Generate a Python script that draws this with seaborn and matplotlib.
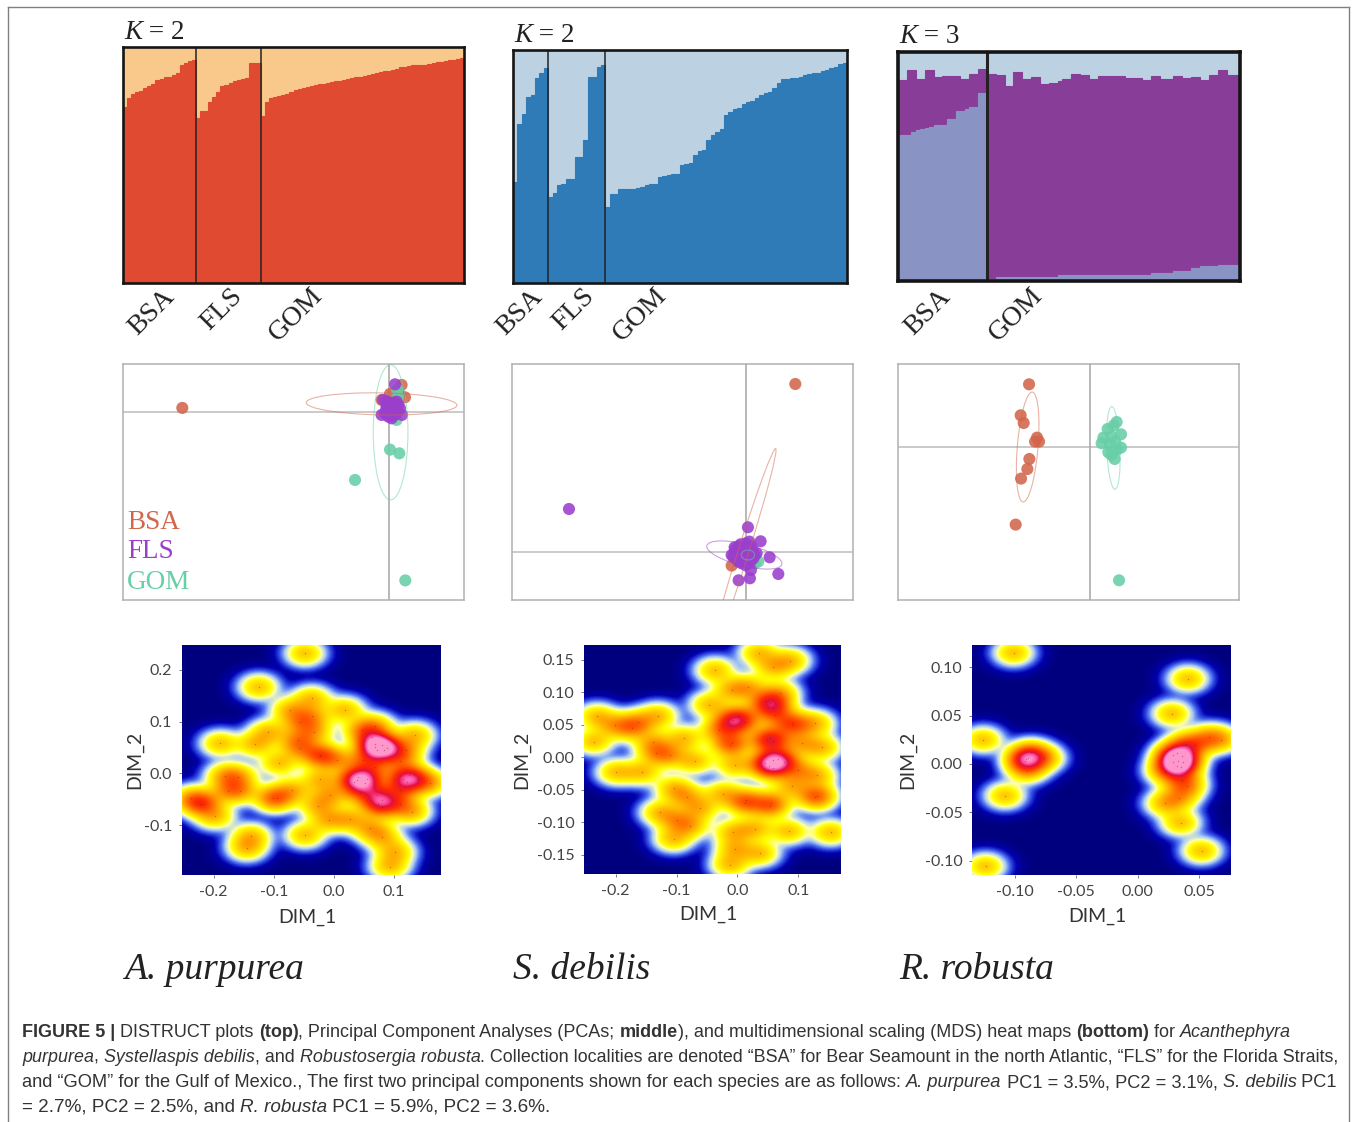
import matplotlib
matplotlib.use('Agg')
import matplotlib.pyplot as plt
from matplotlib.colors import LinearSegmentedColormap
from matplotlib.patches import Ellipse
import numpy as np
import pandas as pd
import seaborn as sns

# ---- DISTRUCT membership values (share of the lowest / middle cluster per individual)
pur_bsa = [.746, .782, .799, .811, .813, .825, .836, .842, .861, .864, .871, .875, .882, .890, .925, .933, .940, .947]
pur_fls = [.699, .727, .727, .768, .789, .811, .836, .839, .846, .854, .861, .865, .868, .933, .933, .933]
pur_gom = [.706, .768, .782, .789, .793, .796, .799, .811, .818, .822, .825, .832, .836, .839, .842, .845, .848,
           .851, .854, .856, .861, .865, .868, .871, .875, .878, .882, .887, .890, .894, .897, .900, .904, .908,
           .914, .917, .920, .923, .923, .925, .925, .928, .933, .935, .937, .940, .943, .947, .950, .954]

deb_bsa = [.433, .684, .727, .799, .806, .878, .900, .921]
deb_fls = [.369, .386, .419, .426, .448, .448, .541, .541, .613, .885, .885, .928, .935]
deb_gom = [.326, .383, .383, .405, .405, .405, .405, .407, .412, .419, .423, .426, .455, .458, .462, .466, .469,
           .505, .512, .515, .548, .567, .570, .613, .634, .648, .663, .720, .735, .745, .753, .770, .778, .782,
           .792, .806, .816, .821, .839, .857, .875, .875, .878, .881, .885, .892, .897, .900, .902, .911, .914,
           .921, .928, .940, .945]

rob_bsa_mid = [.879, .879, .920, .920, .884, .884, .920, .920, .891, .891, .894, .897, .897, .897, .884, .884,
               .905, .905, .927, .927]
rob_bsa_low = [.636, .636, .636, .651, .658, .665, .670, .672, .680, .680, .680, .709, .709, .742, .742, .753,
               .760, .760, .821, .821]
rob_gom_mid = [.902, .902, .898, .898, .850, .850, .913, .913, .884, .884, .891, .891, .859, .859, .865, .865,
               .873, .884, .884, .905, .905, .898, .898, .884, .884, .897, .897, .897, .897, .897, .897, .885,
               .885, .885, .885, .879, .879, .897, .897, .884, .884, .884, .897, .897, .885, .885, .891, .891,
               .879, .879, .898, .898, .920, .920, .898, .898, .898]
rob_gom_low = [.010, .010, .017, .017, .017, .017, .017, .017, .017, .017, .017, .017, .017, .017, .017, .017,
               .028, .028, .028, .028, .028, .028, .028, .028, .028, .028, .028, .028, .028, .028, .028, .028,
               .028, .028, .028, .028, .028, .035, .035, .035, .035, .035, .044, .044, .044, .044, .058, .058,
               .064, .064, .064, .064, .070, .070, .070, .070, .070]

# ---- PCA scores
pca_pur = {
    'BSA': ([-2.07, .123, .157, -.077, .007, .107], [.037, .267, .143, .117, .177, .167]),
    'GOM': ([.007, .10, -.343, .16, .08, .073, .09], [-.38, -.417, -.683, -1.687, .217, -.083, .15]),
    'FLS': ([.057, -.06, -.01, .127, .073, -.027, .04, .107, -.043, .007, .057, -.077, .023, .09, .023, -.01, .057,
             .0, .03, .06, .08, -.03, .02, .05, -.02, .07, .04, .01],
            [.273, .117, -.05, -.033, .1, .067, 0, .033, -.017, .083, .05, -.033, -.067, .067, .033, 0, -.033,
             .05, .07, .02, .0, .03, -.03, .09, .1, -.01, .06, .01]),
}
pca_deb = {
    'BSA': ([.497, -.14], [1.683, -.133]),
    'GOM': ([.127, .093], [-.093, -.11]),
    'FLS': ([-1.767, .023, .15, .24, .327, .043, -.07, .053, .037, -.123, -.073, -.007, .06, .077, -.04, .027, -.107,
             -.023, -.05, .11, .01, .043, -.073, -.14, -.09, -.02, .03, .07, -.06, .0, .05, -.11, .02, -.04, .09, .0],
            [.433, .25, .11, -.05, -.217, -.26, -.28, -.177, .107, -.043, .057, .007, .057, -.06, -.11, -.11, .023,
             -.027, .08, -.01, -.06, .007, -.093, -.027, -.07, .04, .05, .02, -.02, .09, -.09, .05, -.02, -.08, -.03, -.13]),
}
pca_rob = {
    'BSA': ([-.613, -.697, -.667, -.533, -.553, -.513, -.61, -.63, -.693, -.747],
            [.63, .32, .243, .097, .057, .057, -.117, -.217, -.313, -.773]),
    'GOM': ([.287, .263, .173, .233, .307, .13, .113, .213, .247, .307, .18, .243, .23, .197, .263, .213],
            [-1.33, .253, .183, .217, .13, .097, .04, .107, .057, -.003, -.05, -.117, -.043, .023, -.027, -.077]),
}

# ---- MDS coordinates
mds_pur_x = [-.048, -.125, -.037, -.073, -.037, -.057, .018, -.109, -.131, -.189, -.033, -.060, -.057, -.023, -.023,
             -.091, .068, .046, .063, .068, .080, .088, .135, .119, .005, .048, .110, .068, -.181, -.159, -.176,
             -.156, -.023, .038, .055, .124, .138, .110, .160, -.069, -.101, -.095, -.006, -.217, -.223, -.237,
             -.198, -.026, .043, .071, .080, .080, .110, .129, -.009, .026, .060, .080, -.048, -.138, -.145, .102,
             .093, .068, .084, .072, .040, .052, .034, .115, .122, .074]
mds_pur_y = [.232, .167, .145, .123, .110, .099, .123, .080, .056, .058, .081, .065, .049, .036, .034,
             .020, .092, .084, .071, .052, .055, .049, .074, .045, .026, .026, .024, .013, -.004, -.006, -.033,
             -.033, -.011, -.012, -.011, -.003, -.011, -.032, -.019, -.032, -.048, -.048, -.041, -.058, -.058, -.048,
             -.083, -.062, -.038, -.041, -.051, -.064, -.058, -.074, -.090, -.088, -.105, -.122, -.119, -.121, -.144, -.151,
             -.180, .056, .046, .046, -.006, -.018, -.016, -.010, -.016, -.058]

mds_deb_x = [-.231, -.201, -.174, -.163, -.130, -.236, -.138, -.133, -.111, -.088, -.070, -.199, -.157, -.104, -.083,
             -.061, -.127, -.100, -.078, -.105, -.037, -.046, .035, .059, .087, -.009, .018, .070, -.031, -.012,
             -.009, -.004, -.007, .010, .002, -.012, .046, .059, .054, .062, .092, .089, .128, .106, .139, .048,
             .059, .054, .046, .076, .059, .067, .051, .059, .100, .131, .089, -.024, .014, .013, .054, .055, .128,
             .131, -.007, .029, .084, .153, -.004, .037, -.012]
mds_deb_y = [.063, .049, .045, .054, .064, .024, .023, .006, .003, .029, -.006, -.023, -.023, -.048, -.061,
             -.079, -.085, -.097, -.106, -.126, .134, .081, .161, .139, .149, .104, .108, .099, .042, .019,
             .022, -.012, .058, .055, .063, .050, .086, .078, .083, .065, .050, .052, .052, .022, .015, .027,
             .025, .029, -.009, -.007, -.004, -.002, -.014, -.017, -.020, -.028, -.045, -.056, -.066, -.071, -.075, -.071, -.061,
             -.060, -.115, -.110, -.114, -.116, -.141, -.148, -.166]

mds_rob_x = [-.101, -.126, -.124, -.108, -.087, -.091, -.092, -.089, -.090, -.076, .041, .028, .039, .047, .058, .068,
             .029, .032, .036, .029, .033, .037, .032, .035, .022, .036, .040, .034, .022, .035, .052]
mds_rob_y = [.115, .025, -.106, -.033, .012, .005, .003, .006, -.007, .006, .088, .052, .021, .020, .028, .025,
             .009, .011, .008, .002, .003, .002, -.002, -.003, -.008, -.017, -.023, -.035, -.041, -.061, -.090]

pop_colors = {'BSA': '#D2664C', 'FLS': '#9A3FCC', 'GOM': '#68CFA8'}
heat_stops = ['#00007F', '#0000B0', '#3C5CEC', '#A9CBF2', '#FFFFA8', '#FFFF00', '#FFA800', '#FF2A00', '#E30F3C',
              '#FF4FA2', '#FF96CC']
heat_cmap = LinearSegmentedColormap.from_list(
    'heat', list(zip([0, .04, .09, .15, .21, .27, .46, .72, .84, .92, 1], heat_stops)))

sns.set_style('white')
plt.rcParams['font.family'] = ['Liberation Serif', 'DejaVu Sans']

W, H = 1358, 1122
fig = plt.figure(figsize=(W / 100, H / 100), dpi=100)
renderer = fig.canvas.get_renderer()


def px_axes(x0, y0, x1, y1):
    return fig.add_axes([x0 / W, 1 - y1 / H, (x1 - x0) / W, (y1 - y0) / H])


def draw_runs(runs, x, y, size, family, color, fit=None):
    # runs = [(text, style, weight)], placed one after the other from pixel x
    def width(s, st, wt, sz):
        probe = fig.text(0, 0, s + '|', fontsize=sz, family=family, style=st, weight=wt)
        bar = fig.text(0, 0, '|', fontsize=sz, family=family, style=st, weight=wt)
        w = probe.get_window_extent(renderer).width - bar.get_window_extent(renderer).width
        probe.remove()
        bar.remove()
        return w
    if fit:
        size = size * fit / sum(width(s, st, wt, size) for s, st, wt in runs)
    for s, st, wt in runs:
        fig.text(x / W, 1 - y / H, s, fontsize=size, family=family, style=st, weight=wt, color=color, va='baseline')
        x += width(s, st, wt, size)


def structure(box, layers, groups, sep_lw, frame_lw, k_pos, k_text):
    ax = px_axes(*box)
    n = len(layers[0][0])
    idx = list(range(n))
    for vals, col in layers:
        sns.barplot(x=idx, y=vals, color=col, width=1, saturation=1, linewidth=.8, edgecolor=col, ax=ax)
    for g in groups:
        ax.axvline(g - .5, color='#222222', lw=sep_lw)
    ax.set_xlim(-.5, n - .5)
    ax.set_ylim(0, 1)
    ax.set_xticks([])
    ax.set_yticks([])
    ax.set_xlabel('')
    ax.set_ylabel('')
    for s in ax.spines.values():
        s.set_visible(True)
        s.set_linewidth(frame_lw)
        s.set_color('#151515')
    draw_runs([('K', 'italic', 'normal'), (' = ' + k_text, 'normal', 'normal')], k_pos[0], k_pos[1], 19.5,
              'Liberation Serif', '#222222')


def pca(box, xlim, ylim, scores, ellipses):
    ax = px_axes(*box)
    rows = []
    for pop, (xs, ys) in scores.items():
        rows.append(pd.DataFrame({'pc1': xs, 'pc2': ys, 'pop': pop}))
    df = pd.concat(rows, ignore_index=True)
    ax.axhline(0, color='#bcbcbc', lw=1.1, zorder=1)
    ax.axvline(0, color='#a4a4a4', lw=1.1, zorder=1)
    sns.scatterplot(data=df, x='pc1', y='pc2', hue='pop', palette=pop_colors, s=76, alpha=.88, linewidth=0,
                    legend=False, ax=ax, zorder=2)
    for cx, cy, w, h, ang, col in ellipses:
        ax.add_patch(Ellipse((cx, cy), w, h, angle=ang, fill=False, edgecolor=col, lw=.8, alpha=.5, zorder=3))
    ax.set_xlim(xlim)
    ax.set_ylim(ylim)
    ax.set_xticks([])
    ax.set_yticks([])
    ax.set_xlabel('')
    ax.set_ylabel('')
    for s in ax.spines.values():
        s.set_visible(True)
        s.set_linewidth(1.1)
        s.set_color('#b0b0b0')
    return ax


def heat(box, xlim, ylim, xs, ys, xticks, yticks, xfmt, yfmt, xlabel_y, ylabel_x):
    ax = px_axes(*box)
    nx = int(box[2] - box[0])
    ny = int(box[3] - box[1])
    cx = (np.array(xs) - xlim[0]) / (xlim[1] - xlim[0]) * nx
    cy = (ylim[1] - np.array(ys)) / (ylim[1] - ylim[0]) * ny
    gx, gy = np.meshgrid(np.arange(nx) + .5, np.arange(ny) + .5)
    dens = np.zeros_like(gx)
    for px, py in zip(cx, cy):
        dens += np.exp(-((gx - px) ** 2) / (2 * 12.0 ** 2) - ((gy - py) ** 2) / (2 * 8.0 ** 2))
    # compress the sum so overlapping points stay orange until many stack up
    sns.heatmap(dens ** .65, ax=ax, cmap=heat_cmap, vmin=0, vmax=2.6, cbar=False, xticklabels=False, yticklabels=False)
    ax.scatter(cx, cy, s=1, color='#5a2a10', alpha=.4, linewidths=0)
    ax.set_xticks([(t - xlim[0]) / (xlim[1] - xlim[0]) * nx for t in xticks])
    ax.set_yticks([(ylim[1] - t) / (ylim[1] - ylim[0]) * ny for t in yticks])
    ax.set_xticklabels([xfmt % t for t in xticks], rotation=0, family='Lato', fontsize=11.5, color='#444444')
    ax.set_yticklabels([yfmt % t for t in yticks], rotation=0, family='Lato', fontsize=11.5, color='#444444')
    ax.tick_params(length=2, width=.6, color='#666666', pad=5, bottom=True, left=True)
    fig.text((box[0] + box[2]) / 2 / W - 4 / W, 1 - xlabel_y / H, 'DIM_1', ha='center', va='center', family='Lato',
             fontsize=14, color='#333333')
    fig.text(ylabel_x / W, 1 - (box[1] + box[3]) / 2 / H, 'DIM_2', ha='center', va='center', rotation=90,
             family='Lato', fontsize=14, color='#333333')


# outer frame of the figure panel
frame = px_axes(8, 7, 1349, 1140)
frame.set_xticks([])
frame.set_yticks([])
frame.patch.set_alpha(0)
for s in frame.spines.values():
    s.set_visible(True)
    s.set_color('#808080')
    s.set_linewidth(1)

# top row
n1 = len(pur_bsa) + len(pur_fls) + len(pur_gom)
structure((123, 47, 464, 283),
          [([1] * n1, '#F8C98B'), (pur_bsa + pur_fls + pur_gom, '#E04A30')],
          [len(pur_bsa), len(pur_bsa) + len(pur_fls)], 1.1, 1.9, (124, 39), '2')
n2 = len(deb_bsa) + len(deb_fls) + len(deb_gom)
structure((513, 50, 847, 283),
          [([1] * n2, '#BCD2E3'), (deb_bsa + deb_fls + deb_gom, '#2E7BB8')],
          [len(deb_bsa), len(deb_bsa) + len(deb_fls)], 1.1, 1.9, (514, 42), '2')
n3 = len(rob_bsa_mid) + len(rob_gom_mid)
structure((898, 52, 1240, 281),
          [([1] * n3, '#BCD2E3'), (rob_bsa_mid + rob_gom_mid, '#883E98'), (rob_bsa_low + rob_gom_low, '#8A94C4')],
          [len(rob_bsa_mid)], 2.2, 2.6, (899, 43), '3')

for label, px, py in [('BSA', 152, 312), ('FLS', 222, 309), ('GOM', 296, 315),
                      ('BSA', 520, 312), ('FLS', 574, 309), ('GOM', 640, 315),
                      ('BSA', 928, 312), ('GOM', 1016, 315)]:
    fig.text(px / W, 1 - py / H, label, rotation=45, ha='center', va='center', fontsize=20,
             family='Liberation Serif', color='#222222')

# middle row
pca((123.3, 364.3, 464.3, 600), (-2.66, .75), (-1.883, .473), pca_pur,
    [(-.077, .077, 1.507, .22, -1, pop_colors['BSA']), (.013, -.207, .347, 1.35, 0, pop_colors['GOM'])])
pca((511.7, 364.3, 853.3, 600), (-2.34, 1.077), (-.477, 1.88), pca_deb,
    [(-.033, -.027, 2.23, .107, 72.6, pop_colors['BSA']), (-.013, -.027, .773, .217, -14, pop_colors['FLS']),
     (.023, -.027, .133, .1, 0, pop_colors['GOM'])])
pca((897.7, 364.3, 1239.3, 600), (-1.927, 1.49), (-1.527, .83), pca_rob,
    [(-.627, .003, 1.103, .207, 85.2, pop_colors['BSA']), (.23, -.007, .827, .133, 92.3, pop_colors['GOM'])])

for label, py in [('BSA', 529), ('FLS', 558), ('GOM', 589)]:
    fig.text(127 / W, 1 - py / H, label, fontsize=19.5, family='Liberation Serif', color=pop_colors[label], va='baseline')

# bottom row
heat((182, 645, 441, 875), (-.2527, .178), (-.196, .248), mds_pur_x, mds_pur_y,
     [-.2, -.1, 0, .1], [-.1, 0, .1, .2], '%.1f', '%.1f', 917, 135)
heat((584, 645, 841, 874), (-.252, .170), (-.180, .173), mds_deb_x, mds_deb_y,
     [-.2, -.1, 0, .1], [-.15, -.10, -.05, 0, .05, .10, .15], '%.1f', '%.2f', 914, 522)
heat((972, 645, 1231, 875), (-.135, .076), (-.115, .123), mds_rob_x, mds_rob_y,
     [-.10, -.05, 0, .05], [-.10, -.05, 0, .05, .10], '%.2f', '%.2f', 916, 908)

for name, px in [('A. purpurea', 124), ('S. debilis', 513), ('R. robusta', 899)]:
    fig.text(px / W, 1 - 979 / H, name, fontsize=27, style='italic', family='Liberation Serif', color='#222222',
             va='baseline')

# caption
caption = [
    (1037, 1268, [('FIGURE 5 | ', 'normal', 'bold'), ('DISTRUCT plots ', 'normal', 'normal'), ('(top)', 'normal', 'bold'),
                  (', Principal Component Analyses (PCAs; ', 'normal', 'normal'), ('middle', 'normal', 'bold'),
                  ('), and multidimensional scaling (MDS) heat maps ', 'normal', 'normal'), ('(bottom)', 'normal', 'bold'),
                  (' for ', 'normal', 'normal'), ('Acanthephyra', 'italic', 'normal')]),
    (1062, 1313, [('purpurea', 'italic', 'normal'), (', ', 'normal', 'normal'), ('Systellaspis debilis', 'italic', 'normal'),
                  (', and ', 'normal', 'normal'), ('Robustosergia robusta', 'italic', 'normal'),
                  ('. Collection localities are denoted \u201cBSA\u201d for Bear Seamount in the north Atlantic, '
                   '\u201cFLS\u201d for the Florida Straits,', 'normal', 'normal')]),
    (1087, 1311, [('and \u201cGOM\u201d for the Gulf of Mexico., The first two principal components shown for each species '
                   'are as follows: ', 'normal', 'normal'), ('A. purpurea', 'italic', 'normal'),
                  (' PC1 = 3.5%, PC2 = 3.1%, ', 'normal', 'normal'), ('S. debilis', 'italic', 'normal'),
                  (' PC1', 'normal', 'normal')]),
    (1112, 527, [('= 2.7%, PC2 = 2.5%, and ', 'normal', 'normal'), ('R. robusta', 'italic', 'normal'),
                 (' PC1 = 5.9%, PC2 = 3.6%.', 'normal', 'normal')]),
]
for py, fit, runs in caption:
    draw_runs(runs, 22, py, 13, 'Liberation Sans', '#333333', fit=fit)

fig.savefig('out.png', dpi=100)
